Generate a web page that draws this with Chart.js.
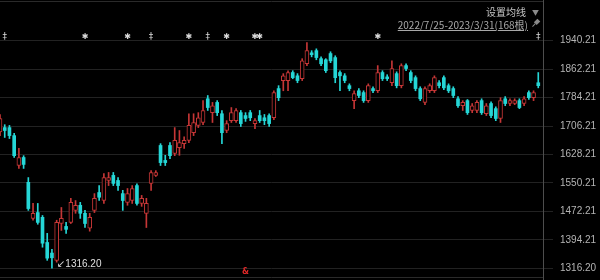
<!DOCTYPE html>
<html>
<head>
<meta charset="utf-8">
<script src="https://cdn.jsdelivr.net/npm/chart.js@4"></script>
<style>
  html, body { margin: 0; padding: 0; background: #000; }
  #wrap { position: relative; width: 600px; height: 280px; overflow: hidden; }
  .hdr { position: absolute; font-family: "Noto Sans CJK SC", "Liberation Sans", sans-serif; font-size: 10px; line-height: 12px; white-space: nowrap; }
</style>
</head>
<body>
<div id="wrap">
  <canvas id="myChart" width="600" height="280"></canvas>
  <div class="hdr" style="right:74px; top:6px; color:#c4c4c4;">设置均线</div>
  <div class="hdr" style="left:532px; top:6px; color:#8a8a8a; font-size:7px;">▼</div>
  <div class="hdr" style="right:72px; top:19px; color:#a8a8a8; text-decoration:underline;">2022/7/25-2023/3/31(168根)</div>
</div>
<script>
// candles (open / high / low / close)
var opens = [1690,1702,1702,1680,1598,1620,1552,1453,1469,1456,1387,1358,1338,1439,1431,1442,1475,1489,1467,1426,
  1475,1524,1502,1557,1571,1557,1521,1497,1502,1543,1494,1467,1549,1571,1653,1612,1653,1631,1647,1658,
  1667,1688,1708,1716,1781,1743,1771,1740,1694,1721,1721,1743,1735,1743,1713,1735,1729,1735,1729,1809,
  1831,1831,1853,1844,1836,1877,1907,1913,1891,1888,1905,1894,1853,1844,1817,1776,1803,1798,1776,1809,
  1803,1853,1841,1825,1850,1817,1872,1853,1839,1809,1771,1803,1803,1825,1839,1817,1809,1781,1762,1776,
  1749,1749,1776,1740,1768,1754,1727,1781,1768,1768,1776,1768,1798,1784,1825];
var highs = [1738,1710,1708,1686,1645,1625,1565,1494,1494,1461,1412,1368,1448,1483,1442,1508,1502,1497,1475,1467,
  1521,1543,1576,1579,1579,1565,1530,1535,1543,1548,1516,1508,1584,1584,1658,1626,1661,1702,1694,1677,
  1740,1740,1743,1776,1790,1771,1776,1749,1721,1757,1754,1749,1743,1749,1727,1749,1738,1740,1803,1817,
  1850,1858,1858,1850,1891,1935,1913,1918,1896,1891,1910,1899,1858,1850,1822,1803,1809,1803,1822,1814,
  1872,1858,1847,1885,1855,1877,1877,1858,1844,1814,1814,1822,1844,1831,1844,1822,1814,1787,1776,1779,
  1768,1776,1781,1768,1773,1759,1784,1787,1781,1781,1781,1787,1803,1803,1853];
var lows = [1680,1675,1672,1620,1590,1590,1475,1448,1437,1374,1338,1316.2,1333,1420,1412,1439,1467,1453,1428,1418,
  1469,1502,1494,1543,1543,1530,1475,1489,1494,1489,1486,1428,1530,1568,1598,1598,1617,1625,1626,1645,
  1661,1680,1702,1710,1749,1716,1735,1658,1688,1716,1716,1705,1719,1721,1699,1716,1710,1705,1724,1776,
  1803,1803,1836,1825,1831,1872,1896,1888,1872,1853,1880,1825,1803,1825,1803,1754,1784,1771,1771,1798,
  1798,1831,1831,1817,1811,1811,1858,1825,1803,1776,1765,1798,1798,1811,1806,1798,1784,1757,1749,1738,
  1743,1743,1738,1735,1729,1721,1716,1762,1762,1765,1754,1762,1779,1776,1811];
var closes = [1727,1694,1680,1625,1620,1601,1480,1467,1442,1385,1344,1345,1442,1453,1423,1497,1489,1467,1439,1456,
  1508,1511,1565,1565,1549,1543,1502,1521,1535,1494,1508,1494,1579,1579,1606,1606,1625,1667,1661,1667,
  1708,1716,1729,1749,1757,1762,1743,1688,1713,1743,1749,1713,1727,1729,1721,1721,1721,1713,1798,1784,
  1844,1853,1839,1831,1885,1913,1902,1894,1877,1858,1885,1839,1844,1831,1809,1795,1790,1776,1817,1803,
  1853,1836,1836,1864,1817,1872,1864,1831,1809,1781,1809,1817,1839,1817,1811,1803,1790,1762,1771,1743,
  1762,1771,1743,1762,1735,1727,1776,1768,1776,1776,1757,1781,1784,1798,1817];

// right axis tick values and their labels
var tickVals = [1316.20, 1394.21, 1472.21, 1550.21, 1628.21, 1706.21, 1784.21, 1862.21, 1940.21];
var tickLabels = ['1316.20', '1394.21', '1472.21', '1550.21', '1628.21', '1706.21', '1784.21', '1862.21', '1940.21'];

// event markers above the candles
var markIdx = [1, 18, 27, 32, 40, 44, 48, 54, 55, 80, 114];
var markSym = ['‡', '✱', '✱', '‡', '✱', '‡', '✱', '✱', '✱', '✱', '‡'];

var lowValue = 1316.20;
var lowIdx = 11;
var flagIdx = 52;

var UP = '#c53636';
var DOWN = '#25d6d6';

var wicks = [], upBodies = [], downBodies = [], wickColors = [];
for (var i = 0; i < opens.length; i++) {
  var up = closes[i] >= opens[i];
  wicks.push({x: i, y: [lows[i], highs[i]]});
  wickColors.push(up ? UP : DOWN);
  if (up) upBodies.push({x: i, y: [opens[i], closes[i]]});
  else downBodies.push({x: i, y: [closes[i], opens[i]]});
}

var extras = {
  id: 'extras',
  afterDraw: function(chart) {
    var ctx = chart.ctx, xs = chart.scales.x, ys = chart.scales.y, ca = chart.chartArea;
    ctx.save();
    // frame lines top and bottom
    ctx.strokeStyle = '#2a2a2a';
    ctx.lineWidth = 1;
    ctx.beginPath();
    ctx.moveTo(0, 1.5); ctx.lineTo(ca.right, 1.5);
    ctx.moveTo(0, 277.5); ctx.lineTo(ca.right, 277.5);
    ctx.stroke();

    // markers
    ctx.fillStyle = '#dadada';
    ctx.textAlign = 'center';
    ctx.textBaseline = 'middle';
    for (var k = 0; k < markIdx.length; k++) {
      ctx.font = markSym[k] == '‡' ? '9px "DejaVu Sans"' : 'bold 8px "DejaVu Sans"';
      ctx.fillText(markSym[k], xs.getPixelForValue(markIdx[k]), 37);
    }

    // lowest point label
    var lx = xs.getPixelForValue(lowIdx), ly = ys.getPixelForValue(lowValue);
    ctx.textAlign = 'left';
    ctx.fillStyle = '#e0e0e0';
    ctx.font = '10px "Liberation Sans", "DejaVu Sans"';
    ctx.fillText('↙1316.20', lx + 5, ly - 4);

    // small red flag at the bottom
    ctx.fillStyle = '#e02828';
    ctx.textAlign = 'center';
    ctx.font = 'bold 8px "DejaVu Sans"';
    ctx.fillText('&', xs.getPixelForValue(flagIdx), 272);

    // pin icon
    ctx.translate(536, 23);
    ctx.rotate(Math.PI / 4);
    ctx.fillStyle = '#8a8a8a';
    ctx.fillRect(-2, -4, 4, 5);
    ctx.fillRect(-0.5, 1, 1, 4);
    ctx.restore();
  }
};

var ctx = document.getElementById('myChart').getContext('2d');
var myChart = new Chart(ctx, {
  type: 'bar',
  data: {
    datasets: [
      {
        data: upBodies,
        backgroundColor: '#000',
        borderColor: UP,
        borderWidth: 1,
        borderSkipped: false,
        barThickness: 4,
        grouped: false,
        order: 0
      },
      {
        data: downBodies,
        backgroundColor: DOWN,
        borderWidth: 0,
        barThickness: 3,
        grouped: false,
        order: 1
      },
      {
        data: wicks,
        backgroundColor: wickColors,
        borderWidth: 0,
        barThickness: 1,
        grouped: false,
        order: 2
      }
    ]
  },
  options: {
    responsive: false,
    animation: false,
    events: [],
    layout: { padding: 0 },
    plugins: { legend: { display: false }, tooltip: { enabled: false } },
    scales: {
      x: {
        type: 'linear',
        min: 0,
        max: 115,
        offset: false,
        display: false,
        grid: { display: false, offset: false }
      },
      y: {
        position: 'right',
        min: 1284.1,
        max: 2051.9,
        afterBuildTicks: function(s) { s.ticks = tickVals.map(function(v) { return {value: v}; }); },
        afterFit: function(s) { s.width = 57; s.paddingTop = 0; s.paddingBottom = 0; },
        grid: { color: '#222', tickColor: '#222', tickLength: 10 },
        border: { display: true, color: '#4d4d4d' },
        ticks: {
          color: '#b4b4b4',
          padding: 7,
          font: { family: 'Liberation Sans', size: 10 },
          callback: function(v, i) { return tickLabels[i]; }
        }
      }
    }
  },
  plugins: [extras]
});
</script>
</body>
</html>
